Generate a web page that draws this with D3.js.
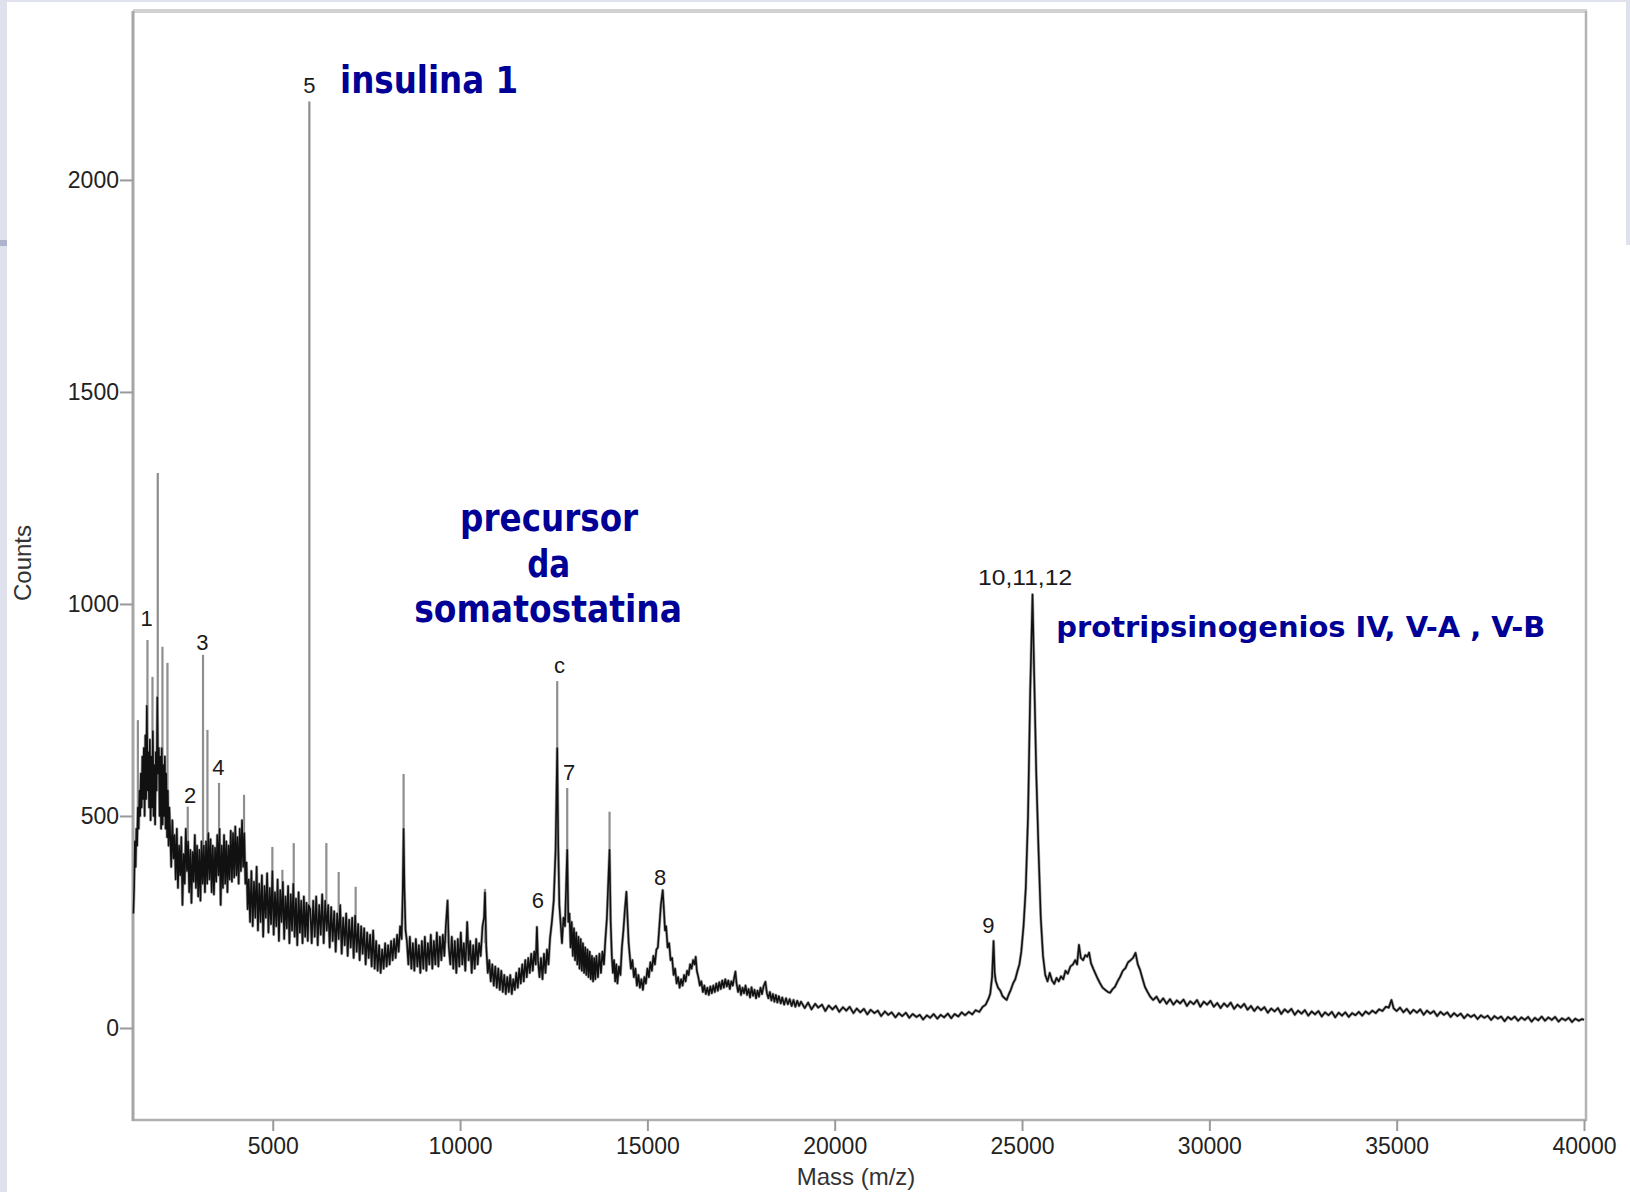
<!DOCTYPE html>
<html><head><meta charset="utf-8">
<script src="https://cdn.jsdelivr.net/npm/d3@7"></script>
<style>body{margin:0;background:#fff;} svg{display:block;}</style>
</head><body>
<svg id="chart" width="1630" height="1192"></svg>
<script>
// ---------- data ----------
const xTicks = [5000, 10000, 15000, 20000, 25000, 30000, 35000, 40000];
const yTicks = [0, 500, 1000, 1500, 2000];
const xTitle = "Mass (m/z)";
const yTitle = "Counts";

// noisy trace, low mass region [mass, counts]
const spectrumLow = [
[1280,270],[1300,330],[1320,440],[1340,380],[1360,470],[1380,430],[1400,520],[1420,470],[1440,560],[1460,500],
[1480,600],[1500,520],[1520,640],[1540,540],[1560,660],[1580,500],[1600,690],[1620,540],[1640,760],[1660,560],
[1680,650],[1700,520],[1720,680],[1740,490],[1760,640],[1780,520],[1800,700],[1820,500],[1840,620],[1860,480],
[1880,650],[1900,560],[1920,780],[1940,600],[1960,660],[1980,500],[2000,640],[2020,470],[2040,660],[2060,480],
[2080,620],[2100,500],[2120,640],[2140,470],[2160,600],[2180,450],[2200,560],[2220,430],[2240,520],
[2260,470],[2290,380],[2320,490],[2350,400],[2380,455],[2410,350],[2440,470],[2470,330],[2500,430],[2530,360],
[2560,450],[2590,290],[2620,410],[2650,340],[2680,470],[2710,370],[2740,440],[2770,320],[2800,420],[2830,295],
[2860,415],[2890,345],[2920,455],[2950,330],[2980,430],[3010,310],[3040,420],[3070,300],[3100,440],[3130,340],
[3160,430],[3190,320],
[3220,440],[3250,340],[3280,460],[3310,350],[3340,445],[3370,320],[3400,430],[3430,315],[3460,425],[3490,345],
[3520,455],[3550,360],[3580,470],[3610,290],[3640,430],[3670,330],[3700,455],[3730,340],[3760,440],[3790,320],
[3820,430],[3850,350],[3880,465],[3910,345],[3940,460],[3970,355],[4000,475],[4030,360],[4060,450],[4090,340],
[4120,470],[4150,370],[4180,490],[4210,380],[4240,460],[4270,340],[4300,390],[4330,280],
[4360,350],[4395,250],[4430,370],[4465,240],[4500,345],[4535,260],[4570,380],[4605,230],[4640,340],[4675,250],
[4710,360],[4745,215],[4780,335],[4815,260],[4850,365],[4885,225],[4920,330],[4955,245],[4990,370],[5025,220],
[5060,320],[5095,240],[5130,350],[5165,205],[5200,325],[5235,250],[5270,345],[5305,210],[5340,310],[5375,235],
[5410,335],[5445,200],[5480,315],[5515,230],[5550,340],[5585,215],[5620,305],[5655,195],[5690,320],[5725,225],
[5760,300],[5795,200],[5830,310],[5865,215],[5900,295],[5935,205],[5960,290]
];

// noisy trace, middle mass region
const spectrumMid = [
[6000,280],[6040,200],[6080,300],[6120,215],[6160,310],[6200,195],[6240,290],[6280,220],[6320,315],[6360,200],
[6400,300],[6440,230],[6480,290],[6520,190],[6560,285],[6600,205],[6640,275],[6680,180],[6720,270],[6760,210],
[6800,290],[6840,175],[6880,260],[6920,195],[6960,270],[7000,170],[7040,255],[7080,190],[7120,260],[7160,165],
[7200,265],[7240,180],[7280,245],[7320,160],[7360,240],[7400,175],[7440,235],[7480,150],[7520,225],[7560,165],
[7600,220],[7640,145],[7680,230],[7720,140],[7760,205],[7800,135],[7840,195],[7880,130],[7920,185],[7960,140],
[8000,200],[8040,145],[8080,195],[8120,150],[8160,205],[8200,160],
[8240,210],[8280,165],[8320,220],[8360,180],[8400,240],[8440,210],[8470,320],[8493,470],[8515,330],[8545,230],
[8580,205],[8620,150],[8660,215],[8700,140],[8740,200],[8780,135],[8820,210],[8860,145],[8900,195],[8940,130],
[8980,205],[9020,140],[9060,215],[9100,135],[9140,200],[9180,150],[9220,220],[9260,140],[9300,205],[9340,150],
[9380,225],[9420,145],[9460,215],[9500,160],
[9540,220],[9580,170],[9620,240],[9666,300],[9700,190],[9740,150],[9780,215],[9820,140],[9860,205],[9900,130],
[9940,210],[9980,145],[10020,225],[10060,150],[10100,200],[10140,135],[10190,250],[10230,160],[10270,205],[10310,130],
[10350,195],[10390,140],[10430,210],[10470,150],[10510,200],[10550,170],[10600,240],[10640,260],[10665,320],[10700,190],
[10740,130],[10780,160],[10820,110],[10860,150],[10900,100],[10940,145],[10980,95],[11020,140],[11060,90],[11100,135],
[11140,85],[11180,125],[11220,80],[11260,120],[11300,85],[11340,125],[11380,80],[11420,115],[11460,90],[11500,130],
[11540,95],[11580,140],[11620,105],[11660,150],[11700,110],[11740,160],[11780,120],[11820,165],[11860,130],[11900,175],
[11940,135],[11980,180],[12020,150],[12051,238],[12080,160],[12120,120],[12160,165],[12200,115],[12240,175],[12280,130],
[12320,185],[12360,150],[12400,210],[12450,250],[12500,300],[12550,420],[12593,660],[12620,430],[12650,290],[12690,240],
[12720,200],[12760,260],[12800,240],[12830,330],[12860,420],[12890,250],[12920,270],[12950,190],[12980,250],[13010,170],
[13040,235],[13070,160],[13100,225],[13130,150],[13160,215],[13190,140],[13220,210],[13250,135],[13280,200],[13310,130],
[13340,190],[13370,125],[13400,185],[13430,120],[13460,180],[13490,115],[13520,170],[13550,110],[13580,165],[13610,115],
[13640,170],[13680,120],[13720,175],[13760,130],[13800,180],[13840,150],[13880,210],[13920,260],[13950,330],[13990,420],
[14020,250],[14050,170],[14080,130],[14110,160],[14140,110],[14170,150],[14200,105],[14240,145],[14280,125],[14320,190],
[14360,230],[14400,280],[14440,321],[14470,260],[14500,200],[14530,170],[14560,140],[14600,160],[14640,120],[14680,140],
[14720,100],[14760,125],[14800,95],[14840,115],[14880,90],[14920,120],[14960,105],[15000,140],[15040,120],[15080,155],
[15120,135],[15160,170],[15200,150],[15240,185],[15280,190],[15320,240],[15360,290],[15410,325],[15440,280],[15470,230],
[15500,240],[15540,190],[15580,200],[15620,160],[15660,165],[15700,125],[15740,140],[15780,105],[15820,120],[15860,95],
[15900,115],[15940,100],[15980,125],[16020,110],[16060,135],[16100,125],[16140,150],[16180,140],[16220,160],[16260,150],
[16290,168],[16320,135],[16360,120],[16400,100],[16440,110],[16480,85],[16520,100],[16560,80],[16600,95],[16640,78],
[16680,98],[16720,82],[16760,100],[16800,85],[16840,105],[16880,88],[16920,108],[16960,92],[17000,112],[17040,95],
[17080,115],[17120,98],[17160,112],[17200,92],[17240,110],[17280,100],[17320,120],[17350,133],[17380,105],[17420,85],
[17460,100],[17500,78],[17540,95],[17580,82],[17620,100],[17660,78],[17700,92],[17740,72],[17780,96],[17820,76],
[17860,90],[17900,70],[17940,88],[17980,74],[18020,95],[18060,80],[18100,98],[18150,109],[18190,82],[18230,70],
[18270,85],[18310,65],[18350,80],[18390,62],[18430,78],[18470,60],[18510,75],[18560,58],[18600,72],[18650,55],
[18700,70],[18750,56],[18800,68],[18850,52],[18900,66],[18950,50],[19000,64],[19050,52]
];

// noisy trace, high mass region
const spectrumHigh = [
[19100,62],[19200,47],[19290,60],[19380,44],[19480,57],[19560,48],[19660,55],[19750,40],[19840,53],[19940,44],
[20030,52],[20120,38],[20220,49],[20310,41],[20400,50],[20500,35],[20590,46],[20680,37],[20780,45],[20870,32],
[20960,43],[21060,35],[21150,41],[21240,28],[21340,39],[21430,31],[21520,37],[21620,25],[21710,35],[21800,28],
[21900,36],[21990,24],[22080,33],[22180,26],[22270,31],[22360,20],[22460,30],[22550,24],[22640,33],[22740,22],
[22830,31],[22920,25],[23020,34],[23110,23],[23200,33],[23300,27],[23390,37],[23480,30],[23580,38],[23670,32],
[23760,42],[23860,38],[23950,50],[24030,55],[24100,68],[24150,80],[24200,120],[24240,205],[24270,130],[24300,110],
[24360,95],[24420,88],[24480,75],[24540,70],[24590,66],[24640,78],[24700,90],[24760,105],[24820,115],[24880,135],
[24930,150],[24980,180],[25040,240],[25100,330],[25160,500],[25220,800],[25280,1022],[25320,850],[25380,600],[25440,420],
[25500,260],[25560,170],[25620,125],[25680,110],[25740,130],[25800,112],[25860,104],[25920,118],[25980,110],[26040,122],
[26100,115],[26160,135],[26220,128],[26290,145],[26360,150],[26420,160],[26470,150],[26520,196],[26570,165],[26630,160],
[26690,172],[26740,168],[26790,178],[26840,153],[26900,140],[26950,130],[27010,118],[27080,106],[27150,95],[27220,90],
[27290,85],[27350,83],[27420,92],[27480,97],[27550,110],[27620,121],[27690,135],[27760,141],[27830,155],[27900,160],
[27960,165],[28030,177],[28090,150],[28150,137],[28220,115],[28280,97],[28350,85],[28420,74],
[28500,66],[28590,74],[28680,60],[28770,70],[28860,57],[28950,68],[29040,55],[29130,65],[29220,58],[29310,67],
[29400,52],[29490,63],[29580,56],[29670,66],[29760,50],[29850,62],[29940,55],[30030,64],[30120,50],[30210,59],
[30300,47],[30390,58],[30480,50],[30570,60],[30660,45],[30750,55],[30840,48],[30930,57],[31020,43],[31110,52],
[31200,40],[31290,50],[31380,42],[31470,49],[31560,36],[31650,46],[31740,39],[31830,47],[31920,33],[32010,44],
[32100,37],[32190,45],[32280,31],[32370,41],[32460,34],[32550,42],[32640,29],[32730,39],[32820,32],[32910,40],
[33000,27],[33090,37],[33180,30],[33270,38],[33360,25],[33450,36],[33540,29],[33630,37],[33720,26],[33810,35],
[33900,30],[33990,38],[34080,29],[34170,39],[34260,33],[34350,41],[34440,35],[34530,44],[34620,40],[34710,50],
[34790,48],[34860,66],[34920,46],[35000,40],[35090,48],[35180,37],[35270,45],[35360,34],[35450,43],[35540,36],
[35630,44],[35720,31],[35810,41],[35900,34],[35990,40],[36080,28],[36170,38],[36260,31],[36350,37],[36440,26],
[36530,35],[36620,28],[36710,34],[36800,23],[36890,32],[36980,26],[37070,31],[37160,21],[37250,30],[37340,24],
[37430,29],[37520,19],[37610,28],[37700,22],[37790,27],[37880,16],[37970,26],[38060,20],[38150,27],[38240,17],
[38330,25],[38420,19],[38510,26],[38600,15],[38690,24],[38780,18],[38870,27],[38960,17],[39050,25],[39140,19],
[39230,26],[39320,15],[39410,23],[39500,18],[39590,24],[39680,14],[39770,22],[39860,17],[39950,21],[40000,19]
];

// narrow peaks [mass, top counts, base counts]
const spikes = [
[1400,726,500],[1656,915,600],[1790,828,600],[1931,1309,620],[2056,899,560],[2190,861,500],
[2731,522,420],[3139,880,400],[3257,703,420],[3566,578,400],[4234,550,440],[4990,427,300],
[5257,373,280],[5560,436,280],[5977,2185,250],[6431,436,250],[6760,368,220],[7213,333,200],
[8493,599,400],[9666,304,200],[10665,328,200],[12593,818,600],[12860,566,380],[13990,510,400]
];

// peak numbers [text, mass, counts]
const peakLabels = [
["5",5977,2224],["1",1635,967],["2",2792,550],["3",3120,911],["4",3547,616],
["6",12076,302],["c",12652,856],["7",12912,604],["8",15341,357],["9",24099,243],
["10,11,12",25082,1064]
];

// blue annotations [text, mass, counts(baseline)]
const annotations = [
["insulina 1",6797,2206],
["precursor",12377,1171],
["da",12364,1064],
["somatostatina",12351,957],
["protripsinogenios IV, V-A , V-B",25916,923]
];

// ---------- drawing ----------
const svg = d3.select("#chart");
const x = d3.scaleLinear().domain([1270, 40000]).range([133, 1584]);
const y = d3.scaleLinear().domain([-217, 2396]).range([1120, 12]);

// slide background fragments
svg.append("rect").attr("x",0).attr("y",0).attr("width",1630).attr("height",1192).attr("fill","#fff");
svg.append("rect").attr("x",0).attr("y",0).attr("width",7).attr("height",1192).attr("fill","#dfe2ec");
svg.append("rect").attr("x",0).attr("y",0).attr("width",1630).attr("height",2).attr("fill","#dfe2ec");
svg.append("rect").attr("x",0).attr("y",240).attr("width",7).attr("height",6).attr("fill","#aeb2cc");
svg.append("rect").attr("x",1626).attr("y",0).attr("width",4).attr("height",245).attr("fill","#dfe2ec");

// frame
svg.append("line").attr("x1",133).attr("x2",1587).attr("y1",11).attr("y2",11)
  .attr("stroke","#d2d2d2").attr("stroke-width",4);
svg.append("line").attr("x1",1586).attr("x2",1586).attr("y1",11).attr("y2",1121)
  .attr("stroke","#b4b4b4").attr("stroke-width",2.5);
svg.append("line").attr("x1",132).attr("x2",1587).attr("y1",1120).attr("y2",1120)
  .attr("stroke","#b0b0b0").attr("stroke-width",2.5);
svg.append("line").attr("x1",133).attr("x2",133).attr("y1",11).attr("y2",1121)
  .attr("stroke","#a6a6a6").attr("stroke-width",3);

// axes
const fontAx = "'Liberation Sans', Arial, sans-serif";
const gx = svg.append("g").attr("transform","translate(0,1120)")
  .call(d3.axisBottom(x).tickValues(xTicks).tickSize(11).tickPadding(7).tickFormat(d3.format("d")));
gx.select(".domain").remove();
gx.selectAll(".tick line").attr("stroke","#9a9a9a").attr("stroke-width",2);
gx.selectAll(".tick text").attr("font-family",fontAx).attr("font-size",23).attr("fill","#222");

const gy = svg.append("g").attr("transform","translate(133,0)")
  .call(d3.axisLeft(y).tickValues(yTicks).tickSize(13).tickPadding(1).tickFormat(d3.format("d")));
gy.select(".domain").remove();
gy.selectAll(".tick line").attr("stroke","#9a9a9a").attr("stroke-width",2);
gy.selectAll(".tick text").attr("font-family",fontAx).attr("font-size",23).attr("fill","#222");

svg.append("text").attr("x",856).attr("y",1185).attr("text-anchor","middle")
  .attr("font-family",fontAx).attr("font-size",24).attr("fill","#333").text(xTitle);
svg.append("text").attr("transform","translate(31,563) rotate(-90)").attr("text-anchor","middle")
  .attr("font-family",fontAx).attr("font-size",24).attr("fill","#333").text(yTitle);

// spikes
svg.append("g").selectAll("line").data(spikes).join("line")
  .attr("x1",d=>x(d[0])).attr("x2",d=>x(d[0]))
  .attr("y1",d=>y(d[1])).attr("y2",d=>y(d[2]))
  .attr("stroke","#8e8e8e").attr("stroke-width",2.2);

// spectrum trace
const spectrum = spectrumLow.concat(spectrumMid, spectrumHigh);
const line = d3.line().x(d=>x(d[0])).y(d=>y(d[1]));
svg.append("path").datum(spectrum).attr("d",line)
  .attr("fill","none").attr("stroke","#a8a8a8").attr("stroke-width",3).attr("stroke-linejoin","round");
svg.append("path").datum(spectrum).attr("d",line)
  .attr("fill","none").attr("stroke","#111").attr("stroke-width",1.6).attr("stroke-linejoin","round");

// peak labels
const labelLen = {"10,11,12": 94};
svg.append("g").selectAll("text").data(peakLabels).join("text")
  .attr("x",d=>x(d[1])).attr("y",d=>y(d[2]) + 8)
  .attr("text-anchor","middle")
  .attr("font-family",fontAx).attr("font-size",22).attr("fill","#1a1a1a")
  .each(function(d){ if(labelLen[d[0]]) d3.select(this).attr("textLength",labelLen[d[0]]).attr("lengthAdjust","spacingAndGlyphs"); })
  .text(d=>d[0]);

// blue annotations
const annStyle = {
  "insulina 1": {size:37, len:178, anchor:"start"},
  "precursor": {size:37, len:178, anchor:"middle"},
  "da": {size:37, len:43, anchor:"middle"},
  "somatostatina": {size:37, len:268, anchor:"middle"},
  "protripsinogenios IV, V-A , V-B": {size:29, len:489, anchor:"start"}
};
svg.append("g").selectAll("text").data(annotations).join("text")
  .attr("x",d=>x(d[1])).attr("y",d=>y(d[2]))
  .attr("text-anchor",d=>annStyle[d[0]].anchor)
  .attr("font-family","'DejaVu Sans Condensed','DejaVu Sans',Verdana,sans-serif")
  .attr("font-weight","bold")
  .attr("font-size",d=>annStyle[d[0]].size)
  .attr("textLength",d=>annStyle[d[0]].len)
  .attr("lengthAdjust","spacingAndGlyphs")
  .attr("fill","#000096")
  .text(d=>d[0]);
</script>
</body></html>
